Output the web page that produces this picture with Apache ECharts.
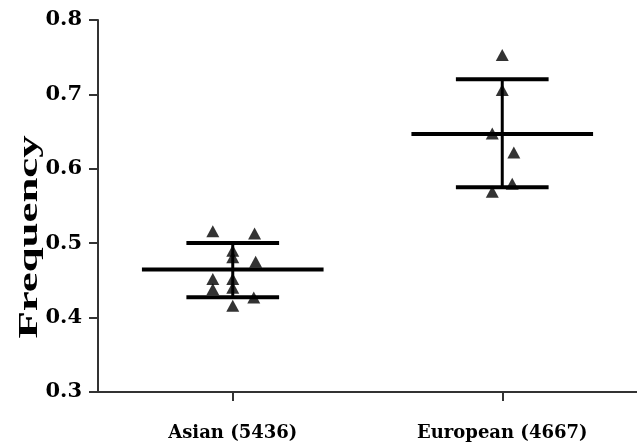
<!DOCTYPE html>
<html>
<head>
<meta charset="utf-8">
<script src="https://cdn.jsdelivr.net/npm/echarts@6/dist/echarts.min.js"></script>
<style>
html,body{margin:0;padding:0;background:#fff;}
#chart{width:637px;height:448px;}
</style>
</head>
<body>
<div id="chart"></div>
<script>
// Categories and tick labels
var categories = ['Asian (5436)', 'European (4667)'];
var yTicks = [0.3, 0.4, 0.5, 0.6, 0.7, 0.8];
var yTitle = 'Frequency';

// Individual study frequencies (value) with horizontal jitter (category units)
var asianValues = [0.516, 0.513, 0.490, 0.481, 0.475, 0.452, 0.438, 0.452, 0.440, 0.427, 0.416];
var asianJitter = [-0.074, 0.081, 0, 0, 0.085, -0.074, -0.074, 0, 0, 0.078, 0];
var europeanValues = [0.753, 0.706, 0.6475, 0.622, 0.580, 0.569];
var europeanJitter = [0, 0, -0.037, 0.043, 0.037, -0.037];

// Summary: mean, mean - SD, mean + SD
var asianSummary = [0.4645, 0.4273, 0.5003];
var europeanSummary = [0.6468, 0.5751, 0.7203];

function pts(idx, vals, jit) {
  return vals.map(function (v, i) { return [idx + jit[i], v]; });
}

var chart = echarts.init(document.getElementById('chart'), null, {renderer: 'canvas'});
var serif = '"DejaVu Serif", "Liberation Serif", serif';

chart.setOption({
  backgroundColor: '#ffffff',
  animation: false,
  grid: {left: 98, right: -1, top: 20, bottom: 56, containLabel: false},
  graphic: [{
    type: 'text',
    x: 30, y: 237,
    rotation: Math.PI / 2,
    scaleX: 1.6,
    style: {
      text: yTitle,
      fill: '#000',
      font: 'bold 28px "Liberation Serif", serif',
      align: 'center',
      verticalAlign: 'middle'
    }
  }],
  xAxis: [{
    type: 'category',
    data: categories,
    boundaryGap: true,
    axisLine: {show: true, lineStyle: {color: '#333', width: 2}},
    axisTick: {show: true, alignWithLabel: true, length: 9, lineStyle: {color: '#333', width: 2}},
    axisLabel: {color: '#000', fontFamily: serif, fontWeight: 'bold', fontSize: 18, margin: 32},
    splitLine: {show: false}
  }, {
    type: 'value',
    min: -0.5, max: 1.5,
    show: false
  }],
  yAxis: {
    type: 'value',
    min: 0.3, max: 0.8, interval: 0.1,
    axisLine: {show: true, onZero: false, lineStyle: {color: '#333', width: 2}},
    axisTick: {show: true, length: 9, lineStyle: {color: '#333', width: 2}},
    axisLabel: {color: '#000', fontFamily: serif, fontWeight: 'bold', fontSize: 21, margin: 16,
      formatter: function (v) { return v.toFixed(1); }},
    splitLine: {show: false}
  },
  series: [{
    type: 'custom',
    xAxisIndex: 1,
    z: 2,
    renderItem: function (params, api) {
      var x = api.value(0), m = api.value(1), lo = api.value(2), hi = api.value(3);
      var band = api.size([1, 0])[0];
      var pm = api.coord([x, m]), pl = api.coord([x, lo]), ph = api.coord([x, hi]);
      var hw = 0.337 * band, sw = 0.172 * band;
      var st = {stroke: '#000', lineWidth: 4};
      return {type: 'group', children: [
        {type: 'line', shape: {x1: pm[0], y1: ph[1], x2: pm[0], y2: pl[1]}, style: {stroke: '#000', lineWidth: 3}},
        {type: 'line', shape: {x1: pm[0] - hw, y1: pm[1], x2: pm[0] + hw, y2: pm[1]}, style: st},
        {type: 'line', shape: {x1: pm[0] - sw, y1: ph[1], x2: pm[0] + sw, y2: ph[1]}, style: st},
        {type: 'line', shape: {x1: pm[0] - sw, y1: pl[1], x2: pm[0] + sw, y2: pl[1]}, style: st}
      ]};
    },
    data: [[0].concat(asianSummary), [1].concat(europeanSummary)]
  }, {
    type: 'scatter',
    xAxisIndex: 1,
    z: 3,
    symbol: 'triangle',
    symbolSize: [13, 12],
    itemStyle: {color: '#000'},
    data: pts(0, asianValues, asianJitter).concat(pts(1, europeanValues, europeanJitter))
  }]
});
</script>
</body>
</html>
